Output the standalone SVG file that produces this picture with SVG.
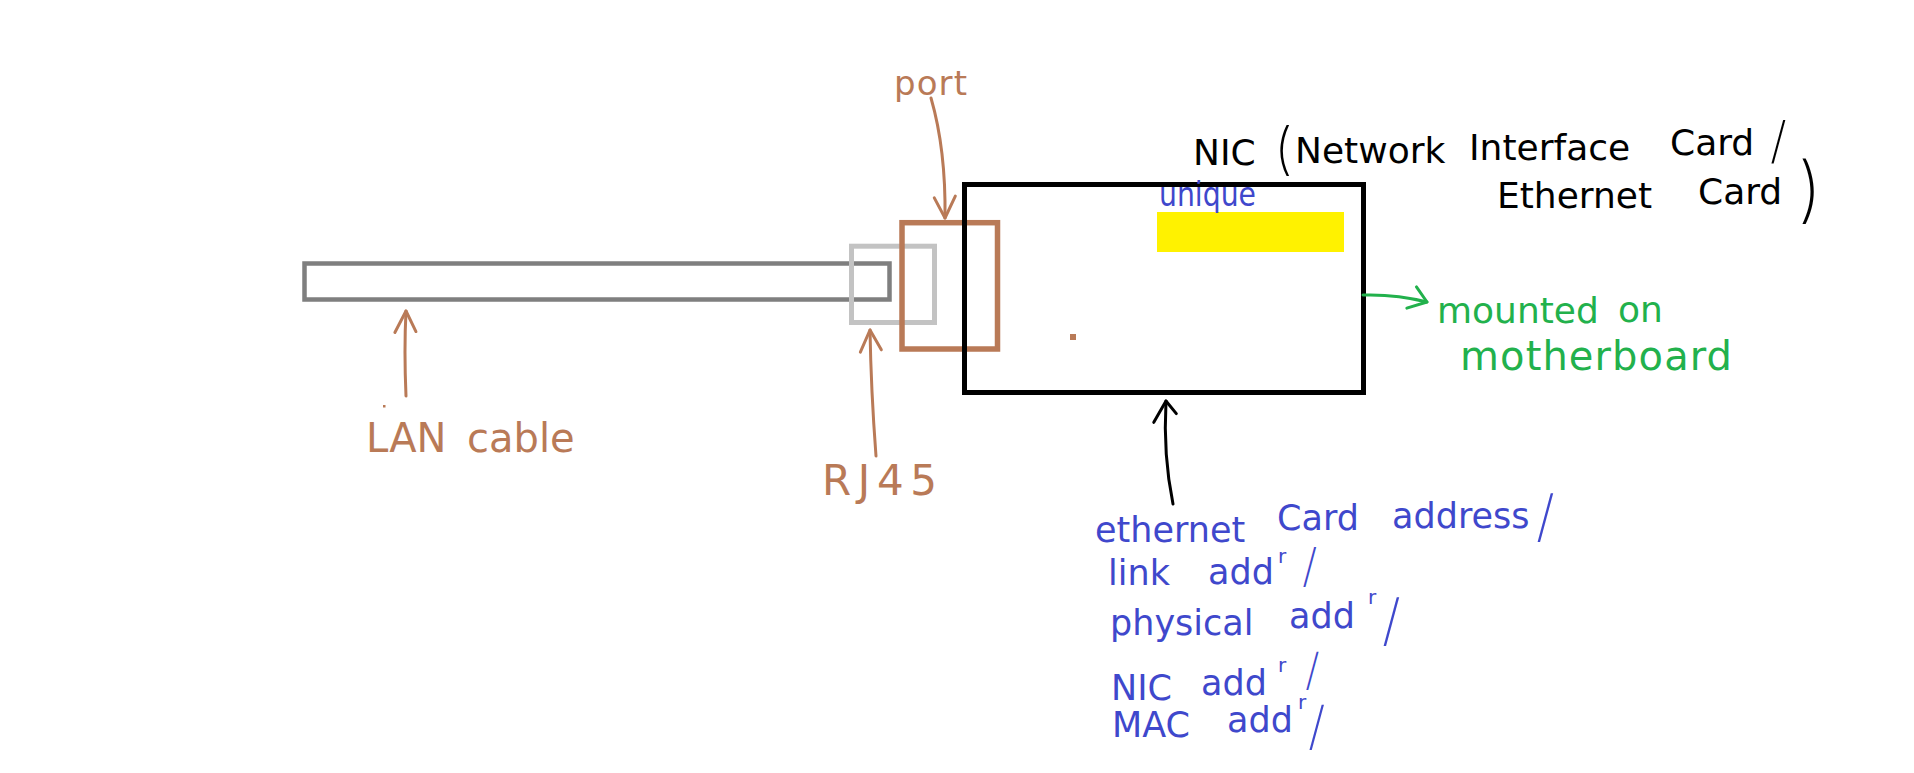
<svg xmlns="http://www.w3.org/2000/svg" width="1914" height="773" viewBox="0 0 1914 773">
  <style>
    .hand { font-family: "DejaVu Sans", "Liberation Sans", sans-serif; }
    .thin { font-family: Inter, Lato, "Noto Sans", sans-serif; font-weight: 200; }
    .brown { fill: #B97A57; }
    .black { fill: #000000; }
    .green { fill: #22B14C; }
    .blue { fill: #3F48CC; }
    .conn { fill: none; stroke-width: 3; stroke-linecap: round; stroke-linejoin: round; }
  </style>
  <defs>
    <marker id="ahBrown" markerUnits="userSpaceOnUse" markerWidth="40" markerHeight="40" refX="0" refY="0" orient="auto" overflow="visible">
      <path d="M-22,-10 L0,0 L-20,11" fill="none" stroke="#B97A57" stroke-width="3" stroke-linecap="round" stroke-linejoin="round"/>
    </marker>
    <marker id="ahBlack" markerUnits="userSpaceOnUse" markerWidth="40" markerHeight="40" refX="0" refY="0" orient="auto" overflow="visible">
      <path d="M-22,-11 L0,0 L-12,11" fill="none" stroke="#000000" stroke-width="3" stroke-linecap="round" stroke-linejoin="round"/>
    </marker>
    <marker id="ahGreen" markerUnits="userSpaceOnUse" markerWidth="40" markerHeight="40" refX="0" refY="0" orient="auto" overflow="visible">
      <path d="M-14,-12 L0,0 L-18,11" fill="none" stroke="#22B14C" stroke-width="3" stroke-linecap="round" stroke-linejoin="round"/>
    </marker>
  </defs>
  <rect x="0" y="0" width="1914" height="773" fill="#FFFFFF"/>

  <g id="lan-cable">
    <rect x="304.5" y="263.5" width="585" height="36" fill="none" stroke="#7F7F7F" stroke-width="4.5"/>
  </g>
  <g id="rj45">
    <rect x="851.5" y="246.2" width="83" height="76.3" fill="none" stroke="#C3C3C3" stroke-width="5"/>
  </g>
  <g id="port">
    <rect x="902" y="222.7" width="95.5" height="126.3" fill="none" stroke="#B97A57" stroke-width="5.5"/>
  </g>
  <g id="nic">
    <rect x="964.5" y="184.5" width="399" height="208" fill="none" stroke="#000000" stroke-width="5"/>
    <rect x="1157" y="212" width="187" height="40" fill="#FFF200"/>
    <rect x="1070" y="334" width="6" height="6" fill="#B97A57"/>
    <text class="hand blue" x="1159" y="206" font-size="34" textLength="97" lengthAdjust="spacingAndGlyphs">unique</text>
  </g>

  <g id="connectors">
    <path class="conn" stroke="#B97A57" d="M406,396 Q404,350 406,311" marker-end="url(#ahBrown)"/>
    <path class="conn" stroke="#B97A57" d="M876,456 Q871,390 870,330" marker-end="url(#ahBrown)"/>
    <path class="conn" stroke="#B97A57" d="M931,98 Q946,150 945,218" marker-end="url(#ahBrown)"/>
    <path class="conn" stroke="#000000" d="M1173,504 Q1163,455 1166,401" marker-end="url(#ahBlack)"/>
    <path class="conn" stroke="#22B14C" d="M1363,295 Q1396,294 1427,302" marker-end="url(#ahGreen)"/>
  </g>

  <g id="label-lan">
    <rect x="383" y="405" width="2.5" height="2.5" fill="#B97A57"/>
    <text class="hand brown" font-size="40" y="452"><tspan x="366">LAN</tspan><tspan x="467">cable</tspan></text>
  </g>
  <g id="label-rj45">
    <text class="hand brown" font-size="42" x="822" y="495" textLength="115" lengthAdjust="spacing">RJ45</text>
  </g>
  <g id="label-port">
    <text class="hand brown" font-size="34" x="894" y="95" textLength="73" lengthAdjust="spacing">port</text>
  </g>

  <g id="label-nic">
    <text class="hand black" font-size="36"><tspan x="1193" y="165">NIC</tspan><tspan class="thin" x="1274" y="168" font-size="56">(</tspan><tspan x="1295" y="163">Network</tspan><tspan x="1469" y="160">Interface</tspan><tspan x="1670" y="155">Card</tspan><tspan class="thin" x="1770" y="158" font-size="50">/</tspan><tspan x="1497" y="208">Ethernet</tspan><tspan x="1698" y="204">Card</tspan><tspan class="thin" x="1798" y="214" font-size="72">)</tspan></text>
  </g>

  <g id="label-mounted">
    <text class="hand green" font-size="36"><tspan x="1437" y="323">mounted</tspan><tspan x="1618" y="322">on</tspan></text>
    <text class="hand green" font-size="40" x="1460" y="370" textLength="272" lengthAdjust="spacing">motherboard</text>
  </g>

  <g id="label-address">
    <text class="hand blue" font-size="35"><tspan x="1095" y="542">ethernet</tspan><tspan x="1277" y="530">Card</tspan><tspan x="1392" y="528">address</tspan><tspan class="thin" x="1536" y="536" font-size="56">/</tspan></text>
    <text class="hand blue" font-size="35"><tspan x="1108" y="585">link</tspan><tspan x="1208" y="584">add</tspan><tspan x="1278" y="563" font-size="20">r</tspan><tspan class="thin" x="1302" y="582" font-size="46">/</tspan></text>
    <text class="hand blue" font-size="35"><tspan x="1110" y="635">physical</tspan><tspan x="1289" y="628">add</tspan><tspan x="1368" y="604" font-size="20">r</tspan><tspan class="thin" x="1382" y="640" font-size="56">/</tspan></text>
    <text class="hand blue" font-size="35"><tspan x="1111" y="700">NIC</tspan><tspan x="1201" y="695">add</tspan><tspan x="1278" y="672" font-size="20">r</tspan><tspan class="thin" x="1305" y="685" font-size="44">/</tspan></text>
    <text class="hand blue" font-size="35"><tspan x="1112" y="737">MAC</tspan><tspan x="1227" y="732">add</tspan><tspan x="1298" y="709" font-size="20">r</tspan><tspan class="thin" x="1308" y="744" font-size="52">/</tspan></text>
  </g>
</svg>
